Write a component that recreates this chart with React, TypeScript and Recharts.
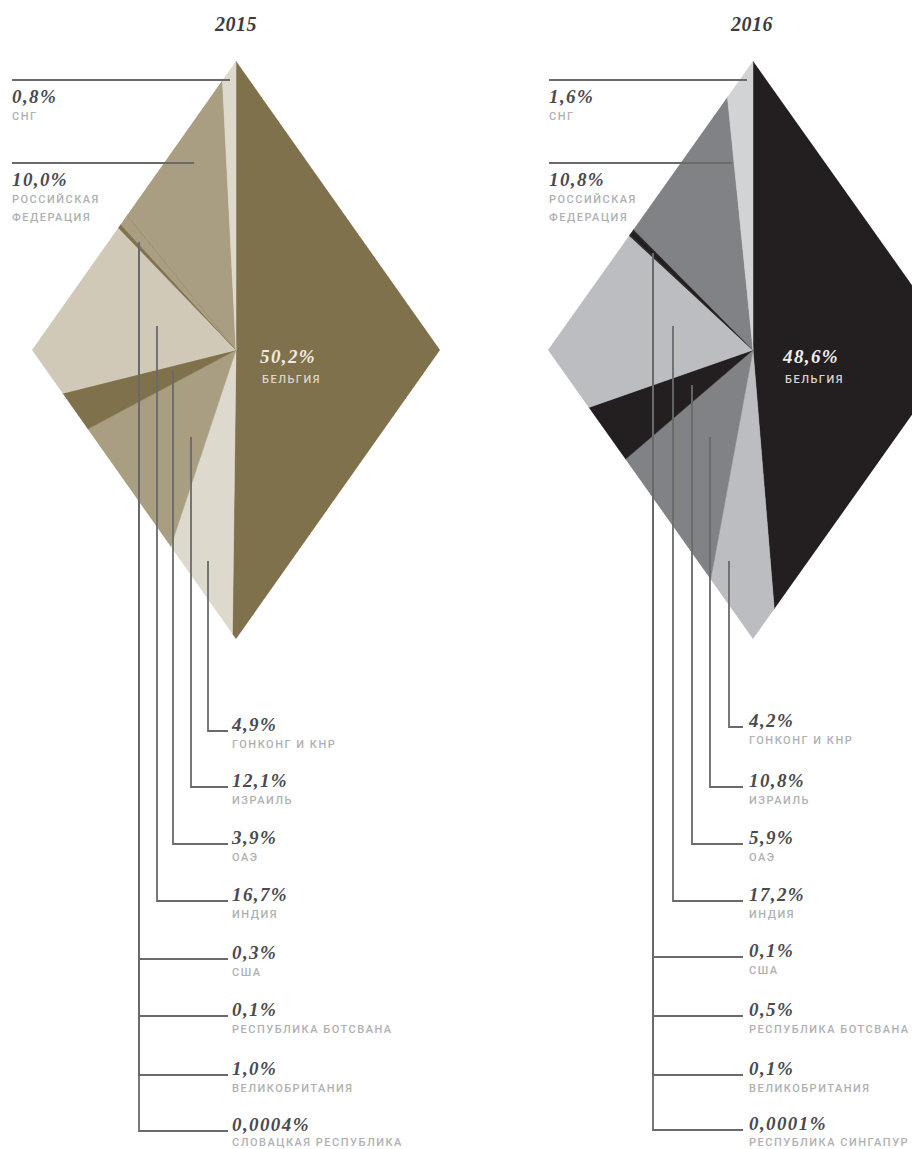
import React from "react";
import { PieChart, Pie, Cell } from "recharts";

const W = 912;
const H = 1149;

const years = ["2015", "2016"];

const names2015 = [
  "БЕЛЬГИЯ",
  "ГОНКОНГ И КНР",
  "ИЗРАИЛЬ",
  "ОАЭ",
  "ИНДИЯ",
  "США",
  "РЕСПУБЛИКА БОТСВАНА",
  "ВЕЛИКОБРИТАНИЯ",
  "СЛОВАЦКАЯ РЕСПУБЛИКА",
  "РОССИЙСКАЯ ФЕДЕРАЦИЯ",
  "СНГ",
];
const shares2015 = [50.2, 4.9, 12.1, 3.9, 16.7, 0.3, 0.1, 1.0, 0.0004, 10.0, 0.8];

const names2016 = [
  "БЕЛЬГИЯ",
  "ГОНКОНГ И КНР",
  "ИЗРАИЛЬ",
  "ОАЭ",
  "ИНДИЯ",
  "США",
  "РЕСПУБЛИКА БОТСВАНА",
  "ВЕЛИКОБРИТАНИЯ",
  "РЕСПУБЛИКА СИНГАПУР",
  "РОССИЙСКАЯ ФЕДЕРАЦИЯ",
  "СНГ",
];
const shares2016 = [48.6, 4.2, 10.8, 5.9, 17.2, 0.1, 0.5, 0.1, 0.0001, 10.8, 1.6];

const colors2015 = [
  "#7f714b", "#ded9cd", "#a99e81", "#7f714b", "#d1c9b7",
  "#7f714b", "#7f714b", "#a99e81", "#7f714b", "#a99e81", "#ded9cd",
];
const colors2016 = [
  "#231f20", "#bcbdc0", "#808285", "#231f20", "#bcbdc0",
  "#231f20", "#231f20", "#231f20", "#231f20", "#808285", "#d1d3d4",
];

// layout of each diamond and its callouts (pixels)
const layout2015 = {
  cx: 236, cy: 350, a: 204, b: 289, titleX: 236,
  main: { x: 260, y: 363 },
  mainColor: "#efebe1", mainSub: "#dcd6c6",
  top: [
    { i: 10, y: 80, x0: 12, x1: 230 },
    { i: 9, y: 163, x0: 12, x1: 194 },
  ],
  elbows: [
    { i: 1, x: 208, y0: 561, y: 731 },
    { i: 2, x: 191, y0: 437, y: 787 },
    { i: 3, x: 173, y0: 370, y: 844 },
    { i: 4, x: 157, y0: 326, y: 901 },
    { i: 5, x: 139, y0: 242, y: 959 },
    { i: 6, x: 139, y0: 242, y: 1016 },
    { i: 7, x: 139, y0: 242, y: 1075 },
    { i: 8, x: 139, y0: 242, y: 1131 },
  ],
  x1: 228, tx: 232,
};
const layout2016 = {
  cx: 753, cy: 350, a: 205, b: 289, titleX: 752,
  main: { x: 783, y: 363 },
  mainColor: "#eeeeef", mainSub: "#d3d4d6",
  top: [
    { i: 10, y: 80, x0: 549, x1: 747 },
    { i: 9, y: 163, x0: 549, x1: 732 },
  ],
  elbows: [
    { i: 1, x: 729, y0: 561, y: 727 },
    { i: 2, x: 710, y0: 437, y: 787 },
    { i: 3, x: 692, y0: 385, y: 844 },
    { i: 4, x: 673, y0: 326, y: 901 },
    { i: 5, x: 653, y0: 253, y: 957 },
    { i: 6, x: 653, y0: 253, y: 1016 },
    { i: 7, x: 653, y0: 253, y: 1075 },
    { i: 8, x: 653, y0: 253, y: 1130 },
  ],
  x1: 743, tx: 749,
};

const fmt = (v: number) =>
  (v < 0.01 ? String(v) : v.toFixed(1)).replace(".", ",") + "%";

const valueFont = {
  fontFamily: "'Liberation Serif', serif",
  fontStyle: "italic" as const,
  fontWeight: 700,
  fontSize: 19,
  letterSpacing: 1.4,
};
const nameFont = {
  fontFamily: "Roboto, 'Liberation Sans', sans-serif",
  fontSize: 11,
  fontWeight: 500,
  letterSpacing: 1.5,
};
const lineColor = "#6a6a6a";
const valueColor = "#4a4a4f";
const nameColor = "#b0b0b3";

function DiamondPie({ names, shares, colors, L }: any) {
  const rows = names.map((n: string, i: number) => ({ name: n, value: shares[i] }));
  const clip = `polygon(${L.cx}px ${L.cy - L.b}px, ${L.cx + L.a}px ${L.cy}px, ${L.cx}px ${L.cy + L.b}px, ${L.cx - L.a}px ${L.cy}px)`;
  return (
    <div style={{ position: "absolute", left: 0, top: 0, width: W, height: H, clipPath: clip }}>
      <PieChart width={W} height={H} margin={{ top: 0, right: 0, bottom: 0, left: 0 }}>
        <Pie
          data={rows}
          dataKey="value"
          nameKey="name"
          cx={L.cx}
          cy={L.cy}
          innerRadius={0}
          outerRadius={330}
          startAngle={90}
          endAngle={-270}
          isAnimationActive={false}
        >
          {rows.map((r: any, i: number) => (
            <Cell key={r.name} fill={colors[i]} stroke={colors[i]} strokeWidth={0.5} />
          ))}
        </Pie>
      </PieChart>
    </div>
  );
}

function Callouts({ names, shares, L, year }: any) {
  return (
    <g>
      <text x={L.titleX} y={31} textAnchor="middle" {...valueFont} fontSize={20} letterSpacing={0.5} fill="#3b3b40">
        {year}
      </text>
      <text x={L.main.x} y={L.main.y} {...valueFont} fill={L.mainColor}>
        {fmt(shares[0])}
      </text>
      <text x={L.main.x + 2} y={L.main.y + 20} {...nameFont} fill={L.mainSub}>
        {names[0]}
      </text>
      {L.top.map((c: any) => {
        const parts = names[c.i].split(" ");
        return (
          <g key={c.i}>
            <line x1={c.x0} x2={c.x1} y1={c.y} y2={c.y} stroke={lineColor} strokeWidth={1.8} />
            <text x={c.x0} y={c.y + 23} {...valueFont} fill={valueColor}>
              {fmt(shares[c.i])}
            </text>
            {parts.map((p: string, k: number) => (
              <text key={k} x={c.x0} y={c.y + 40 + k * 18} {...nameFont} fill={nameColor}>
                {p}
              </text>
            ))}
          </g>
        );
      })}
      {L.elbows.map((c: any) => (
        <g key={c.i}>
          <polyline
            points={`${c.x},${c.y0} ${c.x},${c.y} ${L.x1},${c.y}`}
            fill="none"
            stroke={lineColor}
            strokeWidth={1.8}
          />
          <text x={L.tx} y={c.y} {...valueFont} fill={valueColor}>
            {fmt(shares[c.i])}
          </text>
          <text x={L.tx} y={Math.min(c.y + 17, H - 3)} {...nameFont} fill={nameColor}>
            {names[c.i]}
          </text>
        </g>
      ))}
    </g>
  );
}

export default function App() {
  return (
    <div style={{ position: "absolute", left: 0, top: 0, width: W, height: H, overflow: "hidden", background: "#fff" }}>
      <DiamondPie names={names2015} shares={shares2015} colors={colors2015} L={layout2015} />
      <DiamondPie names={names2016} shares={shares2016} colors={colors2016} L={layout2016} />
      <svg width={W} height={H} style={{ position: "absolute", left: 0, top: 0, pointerEvents: "none" }}>
        <Callouts names={names2015} shares={shares2015} L={layout2015} year={years[0]} />
        <Callouts names={names2016} shares={shares2016} L={layout2016} year={years[1]} />
      </svg>
    </div>
  );
}
